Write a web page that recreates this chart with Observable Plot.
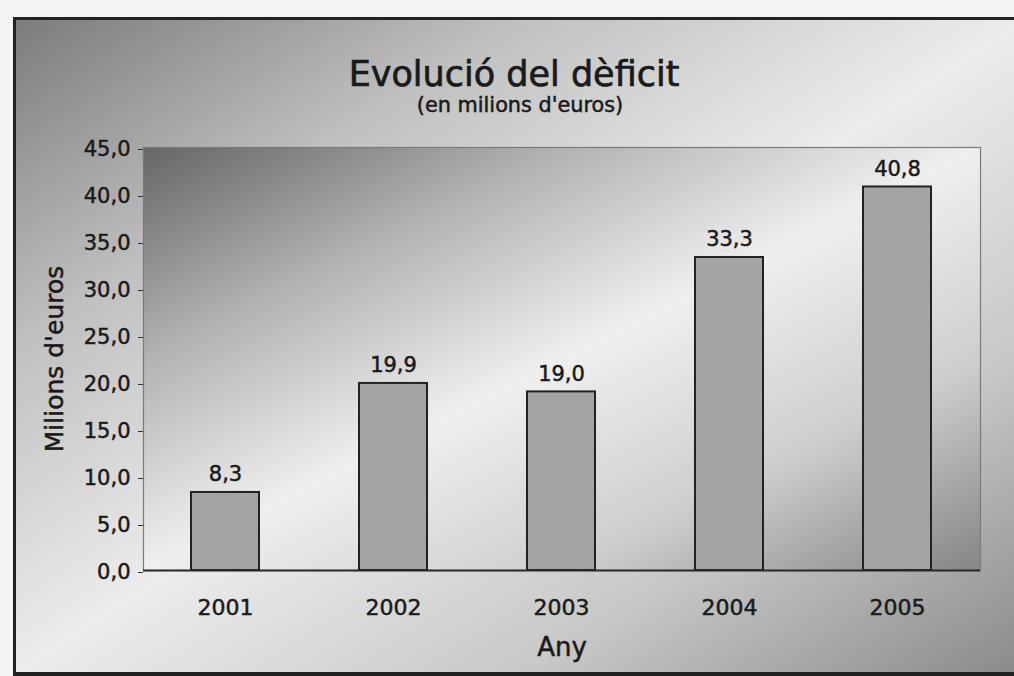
<!DOCTYPE html>
<html>
<head>
<meta charset="utf-8">
<script src="https://cdn.jsdelivr.net/npm/d3@7"></script>
<script src="https://cdn.jsdelivr.net/npm/@observablehq/plot@0.6"></script>
<style>
  html, body { margin: 0; padding: 0; background: #f3f3f3; overflow: hidden; }
  #wrap { position: relative; width: 1014px; height: 676px; overflow: hidden; font-family: "DejaVu Sans", sans-serif; color: #1a1a1a; }
  #panel { position: absolute; left: 13px; top: 17px; width: 1010px; height: 652px;
    border-top: 3px solid #222; border-left: 3px solid #222; border-bottom: 4px solid #222;
    background: linear-gradient(to bottom right, #7c7c7c 0%, #c0c0c0 25%, #ececec 50%, #c8c8c8 75%, #8a8a8a 100%); }
  .t { position: absolute; left: 0; width: 1028px; text-align: center; white-space: nowrap; -webkit-text-stroke: 0.7px #1a1a1a; }
  #title { top: 57px; font-size: 35px; line-height: 35px; }
  #subtitle { top: 95px; left: 6px; font-size: 20.8px; line-height: 20.8px; -webkit-text-stroke: 0.5px #1a1a1a; }
  #chart { position: absolute; left: 0; top: 0; }
  #chart svg text { stroke: #1a1a1a; stroke-width: 0.5px; }
</style>
</head>
<body>
<div id="wrap">
  <div id="panel"></div>
  <div id="title" class="t">Evolució del dèficit</div>
  <div id="subtitle" class="t">(en milions d'euros)</div>
  <div id="chart"></div>
</div>
<script>
const years = ["2001", "2002", "2003", "2004", "2005"];
const deficit = [8.3, 19.9, 19.0, 33.3, 40.8];
const yTicks = [0, 5, 10, 15, 20, 25, 30, 35, 40, 45];
const yTitle = "Milions d'euros";
const xTitle = "Any";

const data = years.map((year, i) => ({year, value: deficit[i]}));
const fmt = d => d.toFixed(1).replace(".", ",");

const svg = Plot.plot({
  width: 1014,
  height: 676,
  marginLeft: 143,
  marginRight: 34,
  marginTop: 147,
  marginBottom: 106,
  style: {background: "none", fontFamily: "DejaVu Sans, sans-serif", color: "#1a1a1a"},
  x: {domain: years, paddingInner: 0.595, paddingOuter: 0.28, axis: null},
  y: {domain: [0, 45], axis: null},
  marks: [
    Plot.frame({fill: "url(#plotGrad)"}),
    Plot.frame({stroke: "#7a7a7a", strokeWidth: 1.2}),
    Plot.axisY({ticks: yTicks, tickFormat: fmt, tickSize: 5, tickPadding: 8, fontSize: 21, dy: 2, label: null, stroke: "#333", fill: "#1a1a1a"}),
    Plot.axisX({tickSize: 0, tickPadding: 29, fontSize: 22, label: null, fill: "#1a1a1a"}),
    Plot.barY(data, {x: "year", y: "value", fill: "#a4a4a4", stroke: "#222", strokeWidth: 2}),
    Plot.ruleY([0], {stroke: "#2a2a2a", strokeWidth: 2}),
    Plot.text(data, {x: "year", y: "value", text: d => fmt(d.value), dy: -11, lineAnchor: "bottom", fontSize: 21, fill: "#1a1a1a"}),
    Plot.text([yTitle], {frameAnchor: "left", textAnchor: "middle", dx: -89, rotate: -90, fontSize: 25, fill: "#1a1a1a"}),
    Plot.text([xTitle], {frameAnchor: "bottom", dy: 85, lineAnchor: "bottom", fontSize: 26, fill: "#1a1a1a"})
  ]
});

const defs = d3.select(svg).insert("defs", ":first-child");
const g = defs.append("linearGradient").attr("id", "plotGrad")
  .attr("x1", 0).attr("y1", 0).attr("x2", 1).attr("y2", 1);
[[0, "#666666"], [0.25, "#b2b2b2"], [0.5, "#efefef"], [0.75, "#cecece"], [1, "#858585"]]
  .forEach(([o, c]) => g.append("stop").attr("offset", o).attr("stop-color", c));

document.getElementById("chart").appendChild(svg);
</script>
</body>
</html>
